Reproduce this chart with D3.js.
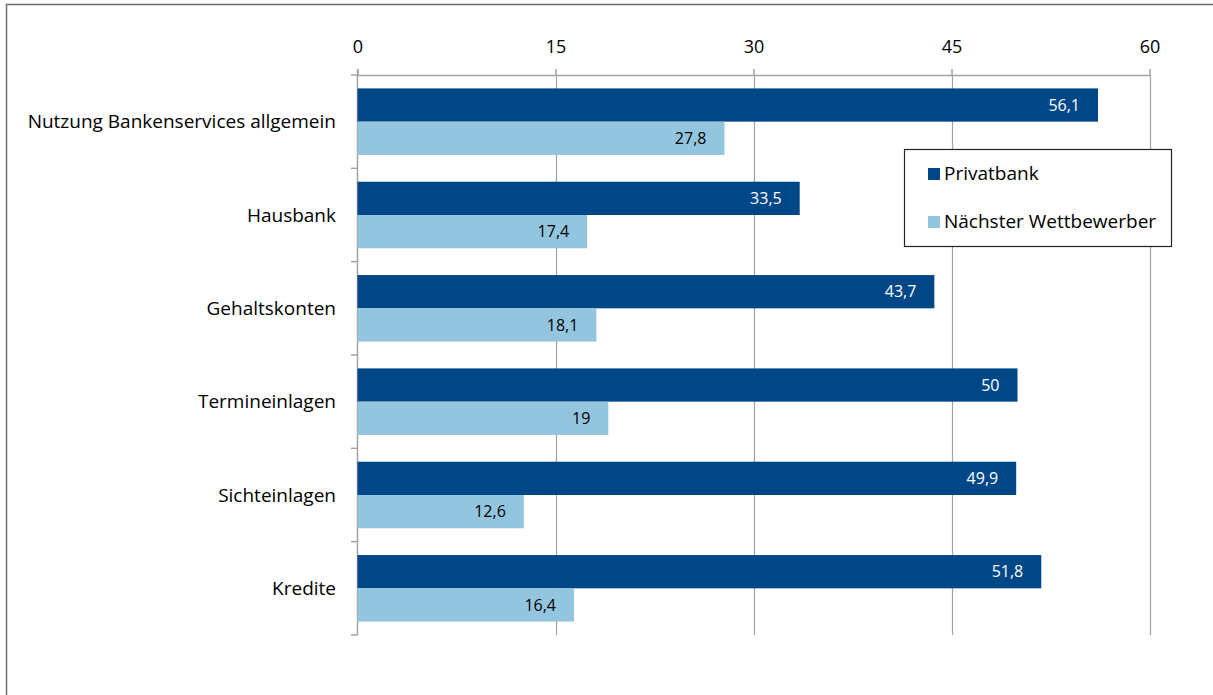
<!DOCTYPE html>
<html><head><meta charset="utf-8">
<script src="https://cdn.jsdelivr.net/npm/d3@7/dist/d3.min.js"></script>
<style>
html,body{margin:0;padding:0;background:#fff;}
svg{display:block;}
text{font-family:"Open Sans","Noto Sans",sans-serif;}
</style></head>
<body>
<script>
const categories = ["Nutzung Bankenservices allgemein","Hausbank","Gehaltskonten","Termineinlagen","Sichteinlagen","Kredite"];
const seriesNames = ["Privatbank","Nächster Wettbewerber"];
const privatbank = [56.1,33.5,43.7,50,49.9,51.8];
const wettbewerber = [27.8,17.4,18.1,19,12.6,16.4];
const tickValues = [0,15,30,45,60];
const colors = ["#004787","#94c5de"];

const W = 1213, H = 695;
const svg = d3.select("body").append("svg").attr("width",W).attr("height",H);

// outer frame
svg.append("rect").attr("x",6.5).attr("y",4.5).attr("width",W+20).attr("height",H+20)
  .attr("fill","none").attr("stroke","#6d6d6d").attr("stroke-width",1.5);

const x = d3.scaleLinear().domain([0,60]).range([357.5,1149.5]);
const y = d3.scaleBand().domain(categories).range([75,635]).paddingInner(0.287).paddingOuter(0.1435);
const ySub = d3.scaleBand().domain(seriesNames).range([0,y.bandwidth()]);

const fmt = v => String(v).replace(".",",");

// gridlines
svg.append("g").selectAll("line").data(tickValues.slice(1)).join("line")
  .attr("x1",d=>Math.round(x(d))+0.5).attr("x2",d=>Math.round(x(d))+0.5)
  .attr("y1",75).attr("y2",635).attr("stroke","#a3a3a3").attr("stroke-width",1.2);

// top axis
const xAxis = d3.axisTop(x).tickValues(tickValues).tickSize(6).tickSizeOuter(0).tickFormat(d=>d);
const gx = svg.append("g").attr("transform","translate(0,75)").call(xAxis);
gx.select(".domain").attr("stroke","#a3a3a3").attr("stroke-width",1.5);
gx.selectAll(".tick line").attr("stroke","#a3a3a3").attr("stroke-width",1.5);
gx.selectAll(".tick text").attr("font-size",18).attr("fill","#000").attr("dy",-13)
  .style("font-family","'Open Sans',sans-serif");

// left axis
const yEdges = categories.map(c=>y(c)-y.step()*y.paddingInner()/2).concat([635]);
const gy = svg.append("g");
gy.append("line").attr("x1",357.5).attr("x2",357.5).attr("y1",69).attr("y2",635)
  .attr("stroke","#a3a3a3").attr("stroke-width",1.5);
gy.selectAll("line.t").data(yEdges).join("line").attr("class","t")
  .attr("x1",351).attr("x2",357.5).attr("y1",d=>d).attr("y2",d=>d)
  .attr("stroke","#a3a3a3").attr("stroke-width",1.5);
gy.selectAll("text").data(categories).join("text")
  .attr("x",336).attr("y",d=>y(d)+y.bandwidth()/2).attr("dy","0.35em")
  .attr("text-anchor","end").attr("font-size",19).attr("fill","#000").text(d=>d);

// bars
const series = [privatbank, wettbewerber];
series.forEach((vals,si)=>{
  const g = svg.append("g");
  g.selectAll("rect").data(vals).join("rect")
    .attr("x",x(0)).attr("y",(d,i)=>y(categories[i])+ySub(seriesNames[si]))
    .attr("width",d=>x(d)-x(0)).attr("height",ySub.bandwidth())
    .attr("fill",colors[si]);
  g.selectAll("text").data(vals).join("text")
    .attr("x",d=>x(d)-18).attr("y",(d,i)=>y(categories[i])+ySub(seriesNames[si])+ySub.bandwidth()/2)
    .attr("dy","0.35em").attr("text-anchor","end").attr("font-size",16)
    .attr("fill",si===0?"#fff":"#000").text(d=>fmt(d));
});

// legend
const lg = svg.append("g");
lg.append("rect").attr("x",904.5).attr("y",149.5).attr("width",267).attr("height",97)
  .attr("fill","#fff").attr("stroke","#222").attr("stroke-width",1.2);
seriesNames.forEach((n,i)=>{
  lg.append("rect").attr("x",928).attr("y",168+i*48).attr("width",12).attr("height",12).attr("fill",colors[i]);
  lg.append("text").attr("x",944).attr("y",173+i*48).attr("dy","0.35em").attr("font-size",19).attr("fill","#000").text(n);
});
</script>
</body></html>
